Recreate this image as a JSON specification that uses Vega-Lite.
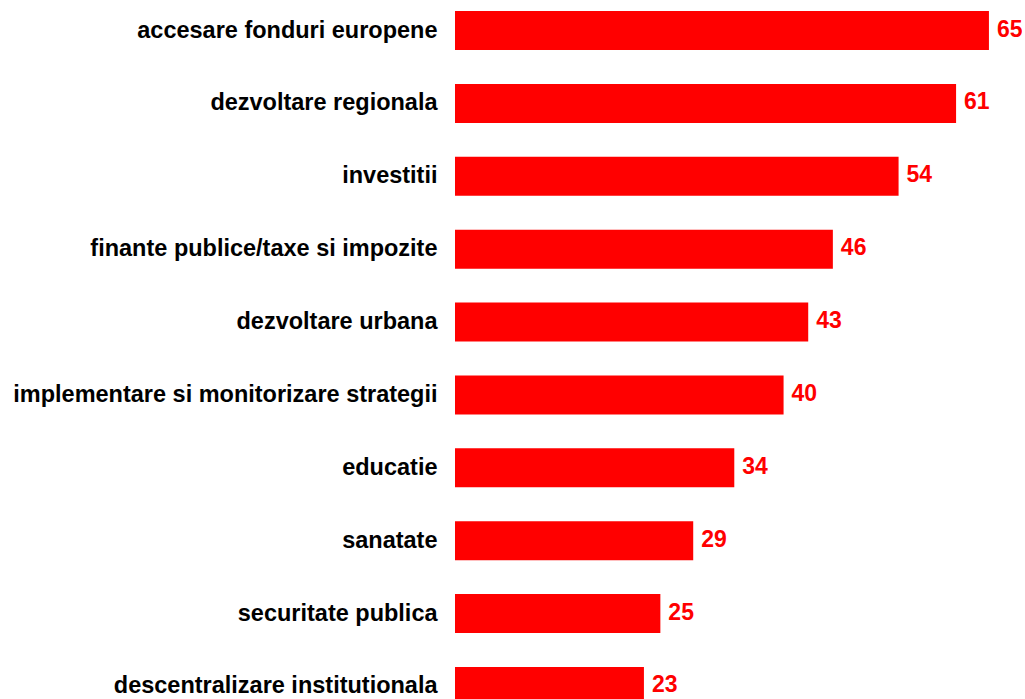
{
  "$schema": "https://vega.github.io/schema/vega-lite/v6.json",
  "autosize": "none",
  "padding": {"left": 455, "top": 0, "right": 0, "bottom": 0},
  "width": 566.8,
  "height": 717,
  "background": "white",
  "config": {"view": {"stroke": null}},
  "data": {
    "values": [
      {"cat": "accesare fonduri europene", "val": 65},
      {"cat": "dezvoltare regionala", "val": 61},
      {"cat": "investitii", "val": 54},
      {"cat": "finante publice/taxe si impozite", "val": 46},
      {"cat": "dezvoltare urbana", "val": 43},
      {"cat": "implementare si monitorizare strategii", "val": 40},
      {"cat": "educatie", "val": 34},
      {"cat": "sanatate\u2005", "val": 29},
      {"cat": "securitate publica", "val": 25},
      {"cat": "descentralizare institutionala", "val": 23}
    ]
  },
  "encoding": {
    "y": {
      "field": "cat",
      "type": "nominal",
      "sort": null,
      "scale": {"paddingInner": 0.465, "paddingOuter": 0.151},
      "axis": {
        "title": null,
        "domain": false,
        "ticks": false,
        "grid": false,
        "labelFont": "Liberation Sans",
        "labelFontWeight": "bold",
        "labelFontSize": 23.5,
        "labelColor": "#000000",
        "labelPadding": 18,
        "labelLimit": 0
      }
    },
    "x": {
      "field": "val",
      "type": "quantitative",
      "scale": {"domain": [0, 69], "nice": false},
      "axis": null
    }
  },
  "layer": [
    {"mark": {"type": "bar", "color": "#FF0000"}},
    {
      "mark": {
        "type": "text",
        "align": "left",
        "baseline": "middle",
        "dx": 8,
        "dy": -1,
        "font": "Liberation Sans",
        "fontWeight": "bold",
        "fontSize": 23,
        "color": "#FF0000"
      },
      "encoding": {"text": {"field": "val", "type": "quantitative"}}
    }
  ]
}
